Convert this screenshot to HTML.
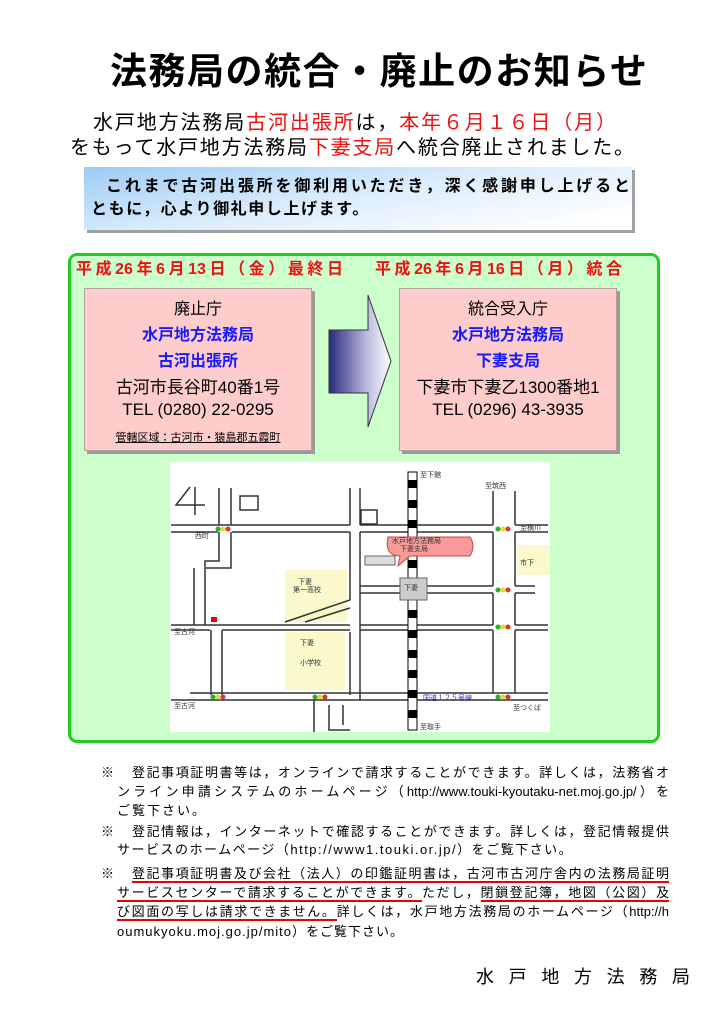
<!DOCTYPE html>
<html><head><meta charset="utf-8">
<style>
*{margin:0;padding:0;box-sizing:border-box}
body{width:725px;height:1024px;background:#fff;position:relative;overflow:hidden;font-family:"Liberation Sans","Noto Sans CJK JP",sans-serif;color:#000}
.a{position:absolute;white-space:nowrap}
.j{text-align:justify;text-align-last:justify}
.r{color:#ee1111}
.b{color:#1a1aff}
.box{position:absolute;background:#ffcccc;border:1px solid #b0a0a0;box-shadow:3px 3px 0 #9a9a9a;text-align:center}
.box div{position:absolute;left:0;right:0;white-space:nowrap}
.n{position:absolute;font-size:13px;line-height:16px;white-space:nowrap}
.u{border-bottom:2px solid #e00}
</style></head><body>
<div class="a j" style="left:110px;top:49px;width:537px;font-size:37px;font-weight:bold;line-height:46px">法務局の統合・廃止のお知らせ</div>
<div class="a j" style="left:93px;top:111px;width:523px;font-size:20px;line-height:24px">水戸地方法務局<span class="r">古河出張所</span>は，<span class="r">本年６月１６日（月）</span></div>
<div class="a j" style="left:70px;top:136px;width:564px;font-size:20px;line-height:24px">をもって水戸地方法務局<span class="r">下妻支局</span>へ統合廃止されました。</div>
<div class="a" style="left:84px;top:167px;width:548px;height:63px;background:linear-gradient(170deg,#9ccbf5 0%,#d8ebfc 45%,#ffffff 90%);box-shadow:3px 3px 0 #a0a0a0"></div>
<div class="a j" style="left:106px;top:177px;width:524px;font-size:16px;font-weight:bold;line-height:20px">これまで古河出張所を御利用いただき，深く感謝申し上げると</div>
<div class="a" style="left:91px;top:200px;font-size:16px;font-weight:bold;line-height:20px;letter-spacing:1.6px">ともに，心より御礼申し上げます。</div>

<div class="a" style="left:68px;top:253px;width:592px;height:490px;background:#ccffcc;border:3px solid #22cc22;border-radius:9px"></div>
<div class="a j r" style="left:76px;top:260px;width:267px;font-size:16px;font-weight:bold;line-height:20px">平成26年6月13日（金）最終日</div>
<div class="a j r" style="left:375px;top:260px;width:247px;font-size:16px;font-weight:bold;line-height:20px">平成26年6月16日（月）統合</div>

<div class="box" style="left:84px;top:288px;width:228px;height:163px">
<div style="top:6px;font-size:16px">廃止庁</div>
<div class="b" style="top:32px;font-size:16px;font-weight:bold">水戸地方法務局</div>
<div class="b" style="top:58px;font-size:16px;font-weight:bold">古河出張所</div>
<div style="top:84px;font-size:17px">古河市長谷町40番1号</div>
<div style="top:111px;font-size:17px">TEL (0280) 22-0295</div>
<div style="top:140px;font-size:11px"><span style="text-decoration:underline">管轄区域：古河市・猿島郡五霞町</span></div>
</div>
<div class="box" style="left:399px;top:288px;width:218px;height:163px">
<div style="top:6px;font-size:16px">統合受入庁</div>
<div class="b" style="top:32px;font-size:16px;font-weight:bold">水戸地方法務局</div>
<div class="b" style="top:58px;font-size:16px;font-weight:bold">下妻支局</div>
<div style="top:84px;font-size:17px">下妻市下妻乙1300番地1</div>
<div style="top:111px;font-size:17px">TEL (0296) 43-3935</div>
</div>

<svg class="a" style="left:0;top:0" width="725" height="1024">
<defs><linearGradient id="g" x1="0" x2="1"><stop offset="0" stop-color="#2a2a80"/><stop offset="0.6" stop-color="#b8b8dd"/><stop offset="1" stop-color="#ffffff"/></linearGradient></defs>
<polygon points="329,330 368,330 368,295 391,361 368,427 368,393 329,393" fill="url(#g)" stroke="#333" stroke-width="1"/>
<rect x="170" y="462" width="380" height="270" fill="#fff"/>
<g fill="#fbf8cc"><rect x="285" y="570" width="62" height="52"/><rect x="285" y="632" width="60" height="58"/><rect x="517" y="545" width="33" height="30"/></g>
<g stroke="#333" stroke-width="1.5" fill="none">
<path d="M190,487 L176,505 L205,505 M195,487 L195,515"/>
<path d="M171,525H350M360,525H493M515,525H548M171,532H218M232,532H350M360,532H493M515,532H548"/>
<path d="M219,488V525M231,488V525M219,532V561H205V625M231,532V568H206"/>
<path d="M350,488V525M360,488V525M350,532V600L285,622M360,532V700M350,608L305,622M350,632V695"/>
<path d="M360,586H493M360,593H493M515,586H535M515,593H535"/>
<path d="M171,625H350M360,625H493M515,625H548M171,630H210M222,630H350M360,630H493M515,630H548"/>
<path d="M211,630V695M222,630V695M194,568V625"/>
<path d="M493,491V525M515,491V525M493,532V586M515,532V586M493,593V625M515,593V625M493,630V693M515,630V693"/>
<path d="M190,693H548M171,700H548M314,700V732M329,705V730H350M343,705V725"/>
<rect x="240" y="496" width="18" height="14"/><rect x="361" y="510" width="16" height="14"/>
</g>
<rect x="408" y="472" width="9" height="258" fill="#fff" stroke="#000" stroke-width="1"/>
<g fill="#000"><rect x="408" y="480" width="9" height="8"/><rect x="408" y="500" width="9" height="8"/><rect x="408" y="520" width="9" height="8"/><rect x="408" y="540" width="9" height="8"/><rect x="408" y="560" width="9" height="8"/><rect x="408" y="610" width="9" height="8"/><rect x="408" y="630" width="9" height="8"/><rect x="408" y="650" width="9" height="8"/><rect x="408" y="670" width="9" height="8"/><rect x="408" y="690" width="9" height="8"/><rect x="408" y="710" width="9" height="8"/></g>
<rect x="400" y="578" width="27" height="22" fill="#ccc" stroke="#666"/>
<path d="M388,537 Q384,556 400,556 L398,566 L410,556 L470,556 Q476,546 470,537 Z" fill="#f89a9a" stroke="#c44"/>
<rect x="365" y="556" width="30" height="9" fill="#ddd" stroke="#666"/>
<rect x="211" y="617" width="6" height="5" fill="#e00"/>
<g font-size="7" fill="#333" font-family="Liberation Sans,Noto Sans CJK JP,sans-serif">
<text x="420" y="477">至下館</text><text x="485" y="488">至筑西</text><text x="520" y="530">至横川</text><text x="195" y="538">西町</text>
<text x="174" y="634">至古河</text><text x="174" y="708">至古河</text><text x="423" y="700" fill="#33a">国道１２５号線</text><text x="513" y="710">至つくば</text><text x="420" y="729">至取手</text>
<text x="392" y="543">水戸地方法務局</text><text x="400" y="551">下妻支局</text><text x="298" y="584">下妻</text><text x="293" y="592">第一高校</text><text x="300" y="645">下妻</text><text x="300" y="665">小学校</text><text x="404" y="590">下妻</text><text x="520" y="565">市下</text>
</g>
<g><circle cx="218" cy="529" r="2.5" fill="#3a3"/><circle cx="223" cy="529" r="2.5" fill="#dd3"/><circle cx="228" cy="529" r="2.5" fill="#d33"/>
<circle cx="498" cy="529" r="2.5" fill="#3a3"/><circle cx="503" cy="529" r="2.5" fill="#dd3"/><circle cx="508" cy="529" r="2.5" fill="#d33"/>
<circle cx="498" cy="590" r="2.5" fill="#3a3"/><circle cx="503" cy="590" r="2.5" fill="#dd3"/><circle cx="508" cy="590" r="2.5" fill="#d33"/>
<circle cx="498" cy="627" r="2.5" fill="#3a3"/><circle cx="503" cy="627" r="2.5" fill="#dd3"/><circle cx="508" cy="627" r="2.5" fill="#d33"/>
<circle cx="213" cy="697" r="2.5" fill="#3a3"/><circle cx="218" cy="697" r="2.5" fill="#dd3"/><circle cx="223" cy="697" r="2.5" fill="#d33"/>
<circle cx="315" cy="697" r="2.5" fill="#3a3"/><circle cx="320" cy="697" r="2.5" fill="#dd3"/><circle cx="325" cy="697" r="2.5" fill="#d33"/>
<circle cx="498" cy="697" r="2.5" fill="#3a3"/><circle cx="503" cy="697" r="2.5" fill="#dd3"/><circle cx="508" cy="697" r="2.5" fill="#d33"/></g>
</svg>

<div class="n" style="left:101px;top:765px">※</div>
<div class="n j" style="left:132px;top:765px;width:537px">登記事項証明書等は，オンラインで請求することができます。詳しくは，法務省オ</div>
<div class="n j" style="left:117px;top:784px;width:552px">ンライン申請システムのホームページ（http://www.touki-kyoutaku-net.moj.go.jp/）を</div>
<div class="n" style="left:117px;top:803px;letter-spacing:2px">ご覧下さい。</div>
<div class="n" style="left:101px;top:824px">※</div>
<div class="n j" style="left:132px;top:824px;width:537px">登記情報は，インターネットで確認することができます。詳しくは，登記情報提供</div>
<div class="n" style="left:117px;top:842px;letter-spacing:1.5px">サービスのホームページ（http://www1.touki.or.jp/）をご覧下さい。</div>
<div class="n" style="left:101px;top:866px">※</div>
<div class="n j" style="left:132px;top:866px;width:537px"><span class="u">登記事項証明書及び会社（法人）の印鑑証明書は，古河市古河庁舎内の法務局証明</span></div>
<div class="n j" style="left:117px;top:885px;width:552px"><span class="u">サービスセンターで請求することができます。</span>ただし，<span class="u">閉鎖登記簿，地図（公図）及</span></div>
<div class="n j" style="left:117px;top:904px;width:552px"><span class="u">び図面の写しは請求できません。</span>詳しくは，水戸地方法務局のホームページ（http://h</div>
<div class="n" style="left:117px;top:924px;letter-spacing:1px">oumukyoku.moj.go.jp/mito）をご覧下さい。</div>

<div class="a j" style="left:476px;top:965px;width:214px;font-size:18px;line-height:24px">水戸地方法務局</div>
</body></html>
